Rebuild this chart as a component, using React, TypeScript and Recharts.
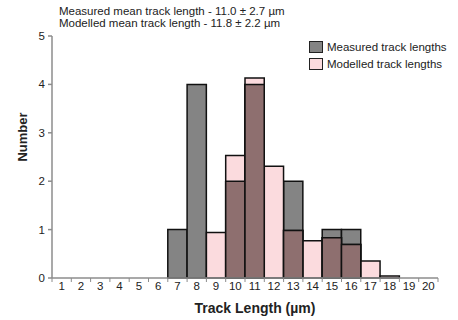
import React from "react"
import { BarChart, Bar, XAxis, YAxis } from "recharts"

// track length bins (µm)
const lengths = ["1", "2", "3", "4", "5", "6", "7", "8", "9", "10", "11", "12", "13", "14", "15", "16", "17", "18", "19", "20"]
// measured counts
const measured = [0, 0, 0, 0, 0, 0, 1, 4, 0, 2, 4, 0, 2, 0, 1, 1, 0, 0, 0, 0]
// modelled counts
const modelled = [0, 0, 0, 0, 0, 0, 0, 0, 0.94, 2.53, 4.13, 2.31, 0.98, 0.77, 0.83, 0.69, 0.35, 0.04, 0, 0]
const yTicks = [0, 1, 2, 3, 4, 5]

const data = lengths.map((len, i) => ({
  len,
  measured: measured[i],
  modelled: modelled[i],
}))

const W = 458
const H = 320
const LEFT = 52
const RIGHT = 20
const TOP = 36
const BOTTOM = 42
const BW = (W - LEFT - RIGHT) / lengths.length
const BAR = BW - 0.05
const AXIS_Y = H - BOTTOM

const GREY = "#848484"
const PINK = "#fbdbde"
const BROWN = "#8e6f6f"
const FONT = "'Liberation Sans', Arial, sans-serif"

function XTick(props: any) {
  const { x, payload, index } = props
  const last = index === lengths.length - 1
  return (
    <g>
      <line x1={x - BW / 2} x2={x - BW / 2} y1={AXIS_Y} y2={AXIS_Y + 4} stroke="#8c8c8c" />
      {last && <line x1={x + BW / 2} x2={x + BW / 2} y1={AXIS_Y} y2={AXIS_Y + 4} stroke="#8c8c8c" />}
      <text x={x} y={AXIS_Y + 12} textAnchor="middle" fontSize={11.5} fill="#222" fontFamily={FONT}>
        {payload.value}
      </text>
    </g>
  )
}

function LegendBox() {
  const items = [
    { label: "Measured track lengths", color: GREY },
    { label: "Modelled track lengths", color: PINK },
  ]
  return (
    <div style={{ position: "absolute", left: 309, top: 38, fontSize: 11.5, color: "#222" }}>
      {items.map((it) => (
        <div key={it.label} style={{ display: "flex", alignItems: "center", height: 17 }}>
          <span
            style={{
              display: "inline-block",
              width: 12,
              height: 10,
              background: it.color,
              border: "1px solid #222",
              marginRight: 4,
            }}
          />
          {it.label}
        </div>
      ))}
    </div>
  )
}

export default function App() {
  return (
    <div style={{ position: "absolute", left: 0, top: 0, width: W, height: H, fontFamily: FONT }}>
      <div style={{ position: "absolute", left: 59, top: 5, fontSize: 11.5, color: "#222", lineHeight: "12px" }}>
        Measured mean track length - 11.0 ± 2.7 µm
        <br />
        Modelled mean track length - 11.8 ± 2.2 µm
      </div>
      <BarChart
        width={W}
        height={H}
        data={data}
        margin={{ top: TOP, right: RIGHT, left: 0, bottom: 0 }}
        barSize={BAR}
        barGap={-BAR}
        barCategoryGap={0}
      >
        <XAxis
          dataKey="len"
          height={BOTTOM}
          stroke="#8c8c8c"
          strokeWidth={1.5}
          tickLine={false}
          tick={<XTick />}
          interval={0}
          label={(p: any) => (
            <text x={255} y={313} textAnchor="middle" fontSize={14} fontWeight="bold" fill="#222" fontFamily={FONT}>
              Track Length (µm)
            </text>
          )}
        />
        <YAxis
          width={LEFT}
          domain={[0, 5]}
          ticks={yTicks}
          stroke="#8c8c8c"
          strokeWidth={1.5}
          tickSize={4}
          tickMargin={3}
          tick={{ fontSize: 11.5, fill: "#222", fontFamily: FONT }}
          label={(p: any) => (
            <text
              x={24}
              y={137}
              transform="rotate(-90 24 137)"
              textAnchor="middle"
              dominantBaseline="middle"
              fontSize={13}
              fontWeight="bold"
              fill="#222"
              fontFamily={FONT}
            >
              Number
            </text>
          )}
        />
        <Bar dataKey="measured" fill={GREY} stroke="#111" strokeWidth={1.5} isAnimationActive={false} />
        <Bar dataKey="modelled" fill={PINK} stroke="#111" strokeWidth={1.5} isAnimationActive={false} />
        <Bar
          dataKey={(d: any) => Math.min(d.measured, d.modelled)}
          fill={BROWN}
          stroke="#111"
          strokeWidth={1.5}
          isAnimationActive={false}
        />
      </BarChart>
      <LegendBox />
    </div>
  )
}
